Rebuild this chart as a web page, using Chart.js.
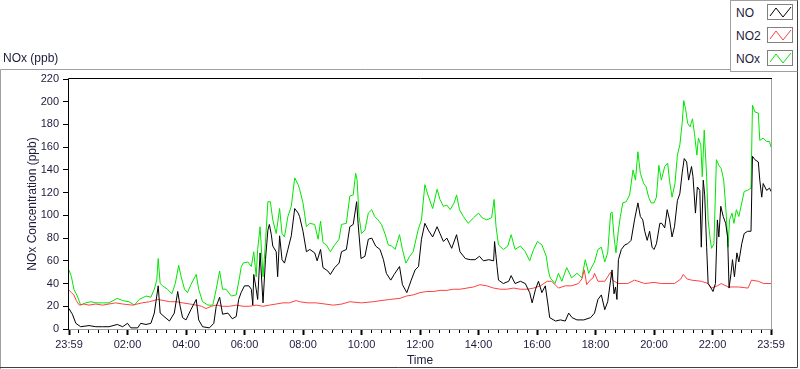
<!DOCTYPE html>
<html>
<head>
<meta charset="utf-8">
<script src="https://cdn.jsdelivr.net/npm/chart.js@4.4.1/dist/chart.umd.min.js"></script>
<style>
  html, body { margin: 0; padding: 0; background: #ffffff; }
  #wrap { position: relative; width: 800px; height: 369px; overflow: hidden; }
  canvas { position: absolute; left: 0; top: 0; }
  #legend { position: absolute; left: 730px; top: 0px; width: 68px; height: 72px; box-sizing: border-box;
            border: 1px solid #a0a0a0; border-right-color: #404040; background: #fff;
            font-family: "Liberation Sans", Arial, sans-serif; font-size: 12px; color: #1c1c3c; }
  .lg-text { position: absolute; left: 5px; line-height: 14px; }
  .lg-sw { position: absolute; left: 36px; width: 26px; height: 16px; }
</style>
</head>
<body>
<div id="wrap">
  <canvas id="c" width="800" height="369"></canvas>
  <div id="legend"></div>
</div>
<script>
// ---------------- DATA (minutes since 23:59, value in ppb) ----------------
const seriesNames = ['NO', 'NO2', 'NOx'];
const seriesColors = ['#000000', '#ff4040', '#00e600'];

const noTimes = [0,4,7,14,24,41,55,69,82,99,110,120,127,141,147,158,168,175,180,183,187,195,206,216,223,228,233,240,250,261,266,274,288,297,302,309,315,326,335,343,348,353,360,369,374,377,379,384,387,392,398,403,408,411,415,418,425,428,432,437,442,449,456,463,470,473,480,487,494,504,509,516,521,531,536,545,554,559,569,576,583,590,593,599,607,614,621,629,638,645,651,660,667,678,684,693,702,710,717,723,730,737,746,755,761,768,775,785,795,802,813,823,833,842,850,861,871,873,878,881,891,902,907,915,926,936,945,950,957,963,970,977,982,986,998,1008,1018,1025,1032,1042,1056,1070,1078,1085,1092,1099,1105,1111,1114,1118,1121,1124,1127,1133,1140,1146,1153,1160,1167,1172,1177,1181,1186,1191,1196,1200,1205,1212,1216,1222,1227,1232,1237,1242,1248,1253,1258,1262,1267,1271,1277,1280,1285,1289,1294,1297,1301,1304,1308,1311,1317,1321,1326,1330,1333,1337,1342,1347,1351,1354,1358,1361,1365,1370,1374,1380,1385,1392,1399,1402,1407,1414,1417,1421,1424,1431,1437,1440];
const noValues = [18,15,13,5,2,3,2,2,2,4,2,5,1,1,5,4,5,14,29,38,14,11,7,14,33,20,10,8,17,26,8,2,1,5,20,28,13,14,9,11,26,32,38,38,35,21,48,35,26,67,23,61,87,92,83,73,68,46,82,61,58,70,82,106,102,99,86,68,70,67,60,70,54,51,48,54,58,68,70,90,92,112,93,62,64,79,80,73,70,61,49,43,48,55,39,32,43,52,55,79,93,87,81,90,84,77,80,71,83,68,62,61,61,64,60,61,60,77,55,43,40,42,47,40,42,40,32,23,35,42,32,38,23,10,7,8,7,14,10,8,8,10,14,26,30,17,24,43,52,31,37,26,61,70,74,75,78,96,111,99,96,86,78,86,72,70,75,93,93,89,105,96,81,90,113,119,138,150,147,131,143,134,102,125,122,72,131,118,72,40,36,33,40,96,81,108,99,93,81,36,49,61,46,67,59,75,84,86,86,152,149,147,131,116,128,122,124,121];

const no2Times = [0,5,10,15,21,30,41,55,69,82,96,110,130,150,165,182,195,206,220,233,248,261,272,281,292,302,315,329,343,357,370,384,398,411,425,439,452,466,473,490,507,525,542,560,576,600,624,640,658,679,692,706,720,734,748,761,775,789,802,816,830,843,857,871,885,898,912,926,940,953,967,981,990,1004,1018,1031,1045,1052,1057,1062,1069,1075,1078,1085,1099,1111,1115,1126,1146,1160,1181,1200,1215,1242,1255,1260,1268,1277,1297,1311,1318,1330,1338,1352,1373,1393,1400,1414,1425,1440];
const no2Values = [34,32,30,25,21,22,21,22,21,22,23,22,21,23,24,26,25,24,24,23,22,21,20,18,20,21,20,20,21,20,20,21,20,21,22,23,23,25,24,23,23,22,21,22,24,23,24,25,26,27,29,30,32,33,33,34,34,35,35,36,37,39,38,36,35,35,36,35,35,36,38,42,42,36,38,38,40,44,52,39,43,45,49,42,42,50,43,40,40,43,40,41,40,40,44,48,44,43,42,40,36,38,40,37,37,36,43,42,40,40];

const noxTimes = [0,5,10,17,24,34,45,55,69,82,99,110,123,134,144,158,168,175,180,183,187,192,202,211,218,225,230,237,243,250,261,266,274,285,295,302,309,315,322,333,343,350,353,357,367,374,379,384,387,392,398,403,408,413,418,425,432,437,442,449,456,463,470,473,480,487,494,504,511,516,521,528,536,545,554,559,569,576,583,588,591,595,600,607,614,621,627,634,641,648,655,662,669,678,684,691,699,706,716,723,730,737,746,755,761,768,775,782,790,795,801,809,819,830,840,847,857,867,872,876,881,891,900,907,915,926,936,945,953,961,970,979,983,987,997,1004,1011,1021,1031,1042,1052,1059,1066,1073,1078,1085,1092,1099,1105,1111,1114,1118,1122,1127,1131,1136,1143,1150,1157,1162,1167,1172,1179,1184,1189,1194,1200,1205,1210,1215,1222,1228,1232,1237,1243,1248,1253,1258,1261,1265,1269,1274,1279,1283,1288,1291,1296,1299,1303,1308,1311,1315,1318,1323,1328,1333,1338,1343,1348,1352,1355,1360,1364,1369,1374,1380,1385,1392,1399,1402,1407,1414,1417,1424,1431,1437,1440];
const noxValues = [52,46,35,29,21,23,24,23,23,23,27,25,24,21,26,29,28,35,43,62,40,38,35,31,40,56,46,35,32,39,48,35,24,21,21,35,51,35,35,29,30,46,54,58,59,55,68,46,70,90,46,76,112,112,96,84,106,84,81,99,108,133,127,123,111,90,93,92,79,95,76,74,68,74,79,92,93,117,118,137,131,99,84,87,102,105,99,96,92,84,74,73,70,83,70,58,64,68,87,96,127,117,106,123,114,108,109,105,111,118,105,99,93,98,102,98,96,98,114,90,74,70,73,83,70,73,68,60,70,77,74,64,52,45,40,49,42,54,45,49,45,61,49,55,59,70,72,59,67,102,103,81,67,87,99,111,112,118,140,131,156,137,128,125,116,111,111,116,144,131,143,146,130,116,128,153,162,182,201,193,181,178,185,172,153,168,162,134,175,134,96,80,71,75,149,144,141,131,102,72,96,102,93,105,99,111,121,122,124,197,191,190,166,168,165,165,160];

const xTickLabels = ['23:59','02:00','04:00','06:00','08:00','10:00','12:00','14:00','16:00','18:00','20:00','22:00','23:59'];
const yMin = 0, yMax = 220, yStep = 20;
const xMin = 0, xMax = 1440, xMinorStep = 20, xMajorStep = 120;

// ---------------- CHART ----------------
const FONT = '"Liberation Sans", Arial, sans-serif';
const TEXT = '#1c1c3c';

function pts(ts, vs) { return ts.map((t, i) => ({ x: t, y: vs[i] })); }
const allTimes = [noTimes, no2Times, noxTimes];
const allValues = [noValues, no2Values, noxValues];

const frames = {
  id: 'frames',
  afterDraw(chart) {
    const ctx = chart.ctx, a = chart.chartArea;
    ctx.save();
    ctx.lineWidth = 1;
    // outer panel frame
    ctx.strokeStyle = '#a0a0a0';
    ctx.beginPath();
    ctx.moveTo(0.5, 369); ctx.lineTo(0.5, 69.5); ctx.lineTo(731, 69.5);
    ctx.stroke();
    ctx.strokeStyle = '#404040';
    ctx.beginPath();
    ctx.moveTo(797.5, 72); ctx.lineTo(797.5, 367.5); ctx.lineTo(0, 367.5);
    ctx.stroke();
    // plot area frame
    ctx.strokeStyle = '#000000';
    ctx.beginPath();
    ctx.moveTo(a.left - 0.5, a.bottom + 1); ctx.lineTo(a.left - 0.5, a.top - 0.5); ctx.lineTo(a.right + 1, a.top - 0.5);
    ctx.stroke();
    ctx.strokeStyle = '#a0a0a0';
    ctx.beginPath();
    ctx.moveTo(a.right + 0.5, a.top); ctx.lineTo(a.right + 0.5, a.bottom + 0.5); ctx.lineTo(a.left, a.bottom + 0.5);
    ctx.stroke();
    ctx.restore();
  }
};

new Chart(document.getElementById('c'), {
  type: 'line',
  data: {
    datasets: seriesNames.map((n, i) => ({
      label: n,
      data: pts(allTimes[i], allValues[i]),
      borderColor: seriesColors[i],
      backgroundColor: seriesColors[i],
      borderWidth: 1,
      pointRadius: 0,
      tension: 0,
      fill: false
    }))
  },
  options: {
    responsive: false,
    animation: false,
    devicePixelRatio: 1,
    layout: { padding: { left: 3, top: 0, right: 29, bottom: 0 } },
    plugins: {
      legend: { display: false },
      tooltip: { enabled: false },
      title: {
        display: true, text: 'NOx (ppb)', align: 'start', color: TEXT,
        font: { family: FONT, size: 12, weight: 'normal', lineHeight: 1.2 },
        padding: { top: 51, bottom: 13.6 }
      }
    },
    scales: {
      x: {
        type: 'linear', min: xMin, max: xMax,
        afterFit(s) { s.height = 40; },
        border: { display: false },
        grid: {
          drawOnChartArea: false, drawTicks: true, tickLength: 6,
          tickColor: '#000000',
          tickWidth: (c) => (c.tick && c.tick.value % xMajorStep === 0) ? 2 : 1,
          tickBorderDash: (c) => (c.tick && c.tick.value % xMajorStep === 0) ? [] : [4, 20]
        },
        ticks: {
          stepSize: xMinorStep, autoSkip: false, maxRotation: 0, padding: 3, color: TEXT,
          font: { family: FONT, size: 11 },
          callback: (v) => (v % xMajorStep === 0) ? xTickLabels[v / xMajorStep] : ''
        },
        title: {
          display: true, text: 'Time', color: TEXT,
          font: { family: FONT, size: 12 }, padding: { top: 1, bottom: 1 }
        }
      },
      y: {
        min: yMin, max: yMax,
        afterFit(s) { s.width = 66; },
        border: { display: false },
        grid: { drawOnChartArea: false, drawTicks: true, tickLength: 6, tickColor: '#000000', tickWidth: 1 },
        ticks: { stepSize: yStep, padding: 4, color: TEXT, font: { family: FONT, size: 11 } },
        title: {
          display: true, text: 'NOx Concentration (ppb)', color: TEXT,
          font: { family: FONT, size: 12 }, padding: { top: 22, bottom: 22 }
        }
      }
    }
  },
  plugins: [frames]
});

// ---------------- LEGEND ----------------
const legend = document.getElementById('legend');
const lgTop = [3, 26, 49];
seriesNames.forEach((n, i) => {
  const t = document.createElement('div');
  t.className = 'lg-text';
  t.style.top = (lgTop[i] + 2) + 'px';
  t.textContent = n;
  legend.appendChild(t);
  const sw = document.createElementNS('http://www.w3.org/2000/svg', 'svg');
  sw.setAttribute('class', 'lg-sw');
  sw.setAttribute('width', '26'); sw.setAttribute('height', '16');
  sw.style.top = lgTop[i] + 'px';
  sw.innerHTML = '<rect x="0.5" y="0.5" width="25" height="15" fill="#fff" stroke="#808080"/>' +
    '<polyline points="3,12 9,4 16,13 24,3" fill="none" stroke="' + seriesColors[i] + '" stroke-width="1"/>';
  legend.appendChild(sw);
});
</script>
</body>
</html>
